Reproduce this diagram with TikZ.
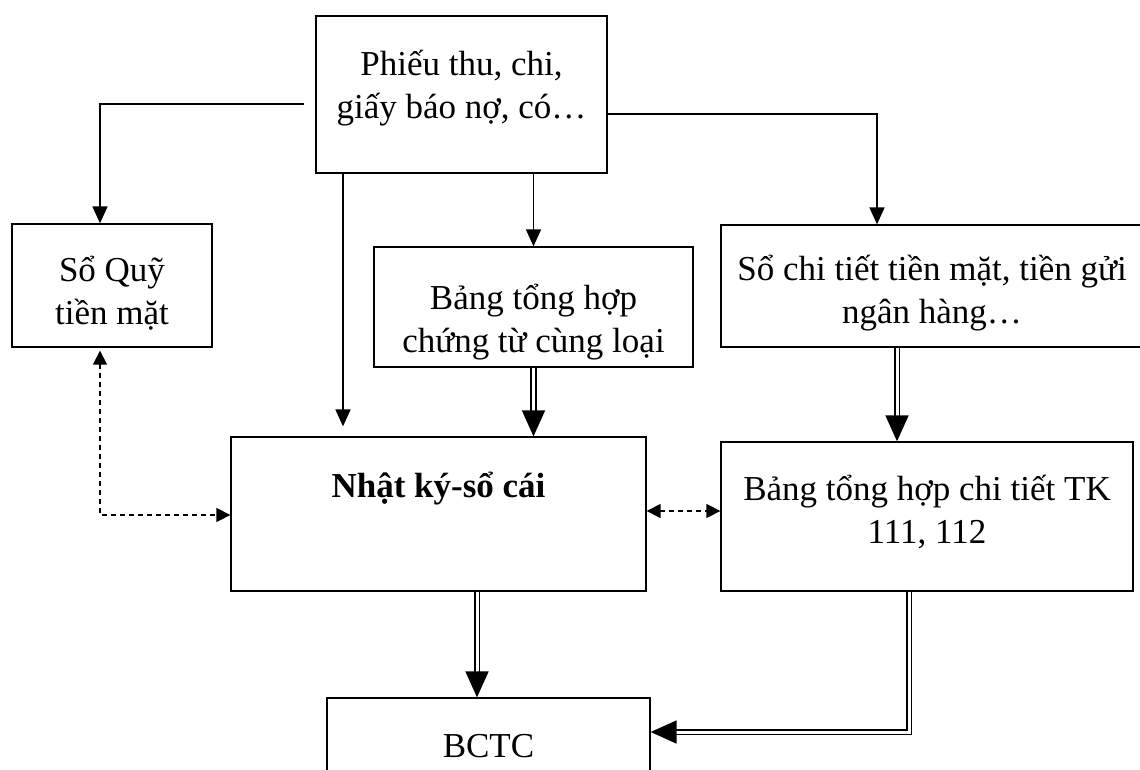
\documentclass[tikz,border=0pt]{standalone}
\usepackage{fontspec}
\setmainfont{Liberation Serif}
\usetikzlibrary{arrows.meta}
\begin{document}
\begin{tikzpicture}[x=1pt,y=-1pt,
  box/.style={draw, line width=1.3pt, inner sep=0pt},
  lbl/.style={font=\fontsize{35}{43}\selectfont, align=center, anchor=base, inner sep=0pt},
  conn/.style={line width=1.7pt, -{Triangle[length=17pt,width=15pt]}},
  dbl/.style={double, double distance=3pt, line width=1.7pt, -{Triangle[length=26pt,width=23pt]}},
  dsh/.style={line width=1.4pt, dash pattern=on 5pt off 4pt,
    {Triangle[length=14pt,width=14pt]}-{Triangle[length=14pt,width=14pt]}}
]
\useasboundingbox (0,0) rectangle (1140,769);
\fill[white] (0,0) rectangle (1140,769);

% boxes
\node[box, minimum width=291pt, minimum height=157pt] (top)  at (461.5,94.5) {};
\node[box, minimum width=200pt, minimum height=123pt] (quy)  at (112,285.5) {};
\node[box, minimum width=319pt, minimum height=120pt] (bt)   at (533.5,307) {};
\node[box, minimum width=429pt, minimum height=122pt] (ct)   at (935.5,286) {};
\node[box, minimum width=415pt, minimum height=154pt] (nk)   at (438.5,514) {};
\node[box, minimum width=412pt, minimum height=149pt] (bc)   at (927,516.5) {};
\node[box, minimum width=323pt, minimum height=92pt]  (bctc) at (488.5,744) {};

% texts (base anchor = baseline of the last line)
\node[lbl] (topT)  at (461.5,118) {Phiếu thu, chi,\\giấy báo nợ, có…};
\node[lbl] (quyT)  at (112,324)   {Sổ Quỹ\\tiền mặt};
\node[lbl] (btT)   at (533.5,352) {Bảng tổng hợp\\chứng từ cùng loại};
\node[lbl] (ctT)   at (932,323)   {Sổ chi tiết tiền mặt, tiền gửi\\ngân hàng…};
\node[lbl, font=\fontsize{35}{43}\selectfont\bfseries] (nkT) at (438.5,497) {Nhật ký-sổ cái};
\node[lbl] (bcT)   at (927,543)   {Bảng tổng hợp chi tiết TK\\111, 112};
\node[lbl] (bctcT) at (488.5,757) {BCTC};

% single arrows from the source documents
\draw[conn, shorten <=11pt] (top.west |- 0,104) -| (quy.north -| 100,0);
\draw[conn] (top.east |- 0,114) -| (ct.north -| 877,0);
\draw[conn, shorten >=10pt] (top.south -| 343,0) -- (nk.north -| 343,0);
\draw[conn] (top.south -| bt.north) -- (bt.north);

% double arrows
\draw[dbl] (bt.south) -- (nk.north -| bt.south);
\draw[dbl] (ct.south -| 897,0) -- (bc.north -| 897,0);
\draw[dbl] (nk.south -| 477,0) -- (bctc.north -| 477,0);
\draw[dbl] (bc.south -| 909,0) |- (bctc.east |- 0,732);

% dashed cross-checks
\draw[dsh, shorten <=3pt] (quy.south -| 100,0) |- (nk.west |- 0,515);
\draw[dsh] (nk.east |- 0,511) -- (bc.west |- 0,511);
\end{tikzpicture}
\end{document}
